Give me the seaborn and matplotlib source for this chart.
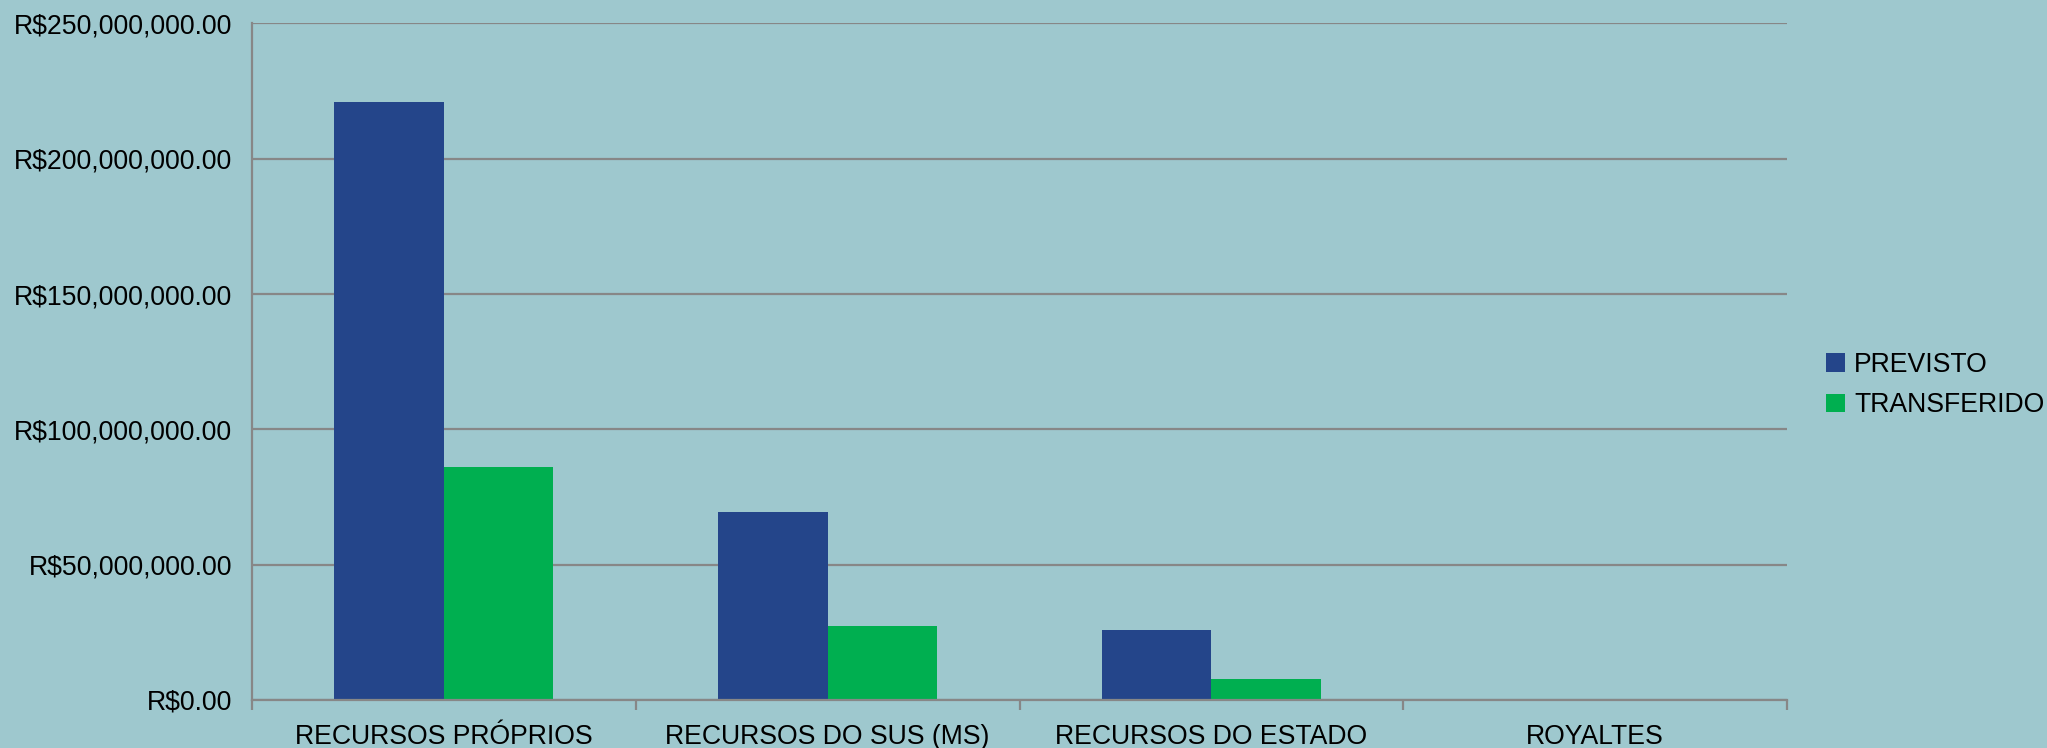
import numpy as np
import pandas as pd
import matplotlib
matplotlib.use("Agg")
import matplotlib.pyplot as plt
import seaborn as sns
from matplotlib.ticker import FuncFormatter, FixedLocator

categorias = ["RECURSOS PRÓPRIOS", "RECURSOS DO SUS (MS)", "RECURSOS DO ESTADO", "ROYALTES"]
previsto = [221.0e6, 69.5e6, 26.0e6, 0.0]
transferido = [86.2e6, 27.5e6, 7.7e6, 0.0]
series = ["PREVISTO", "TRANSFERIDO"]
y_ticks = [0, 50e6, 100e6, 150e6, 200e6, 250e6]

BG = "#9ec8ce"
GRID = "#878787"
COLORS = ["#24458a", "#00af50"]
FS = 19.2

sns.set_theme(style="white")
plt.rcParams["font.family"] = ["Liberation Sans", "DejaVu Sans"]
plt.rcParams["font.size"] = FS
plt.rcParams["text.color"] = "black"

df = pd.DataFrame({
    "categoria": categorias * 2,
    "serie": [series[0]] * len(categorias) + [series[1]] * len(categorias),
    "valor": previsto + transferido,
})

fig = plt.figure(figsize=(20.47, 7.48), dpi=100, facecolor=BG)
ax = fig.add_axes([0.1231, 0.0642, 0.873 - 0.1231, 0.9686 - 0.0642])
ax.set_facecolor(BG)

sns.barplot(data=df, x="categoria", y="valor", hue="serie", palette=COLORS,
            width=0.571, saturation=1, linewidth=0, edgecolor="none", ax=ax, legend=True)

ax.set_xlim(-0.5, len(categorias) - 0.5)
ax.set_ylim(0, 250e6)
ax.yaxis.set_major_locator(FixedLocator(y_ticks))
ax.yaxis.set_major_formatter(FuncFormatter(lambda v, p: "R${:,.2f}".format(v)))
ax.grid(axis="y", color=GRID, linewidth=1.6)
ax.set_axisbelow(True)
ax.set_xlabel("")
ax.set_ylabel("")

for s in ["top", "right"]:
    ax.spines[s].set_visible(False)
for s in ["left", "bottom"]:
    ax.spines[s].set_color(GRID)
    ax.spines[s].set_linewidth(1.6)

ax.tick_params(axis="y", length=7.2, width=1.6, color=GRID, pad=7, labelsize=FS, labelcolor="black")
ax.tick_params(axis="x", which="major", length=0, pad=17, labelsize=FS, labelcolor="black")
ax.xaxis.set_minor_locator(FixedLocator(np.arange(-0.5, len(categorias), 1.0)))
ax.tick_params(axis="x", which="minor", length=7.5, width=1.6, color=GRID, bottom=True)

handles, labels = ax.get_legend_handles_labels()
ax.get_legend().remove()
fig.legend(handles, labels, loc="center left", bbox_to_anchor=(0.892, 0.4855),
           frameon=False, borderpad=0, borderaxespad=0, handlelength=0.7,
           handleheight=0.7, handletextpad=0.35, labelspacing=0.55, fontsize=FS,
           labelcolor="black")

fig.savefig("out.png", dpi=100, facecolor=BG)
